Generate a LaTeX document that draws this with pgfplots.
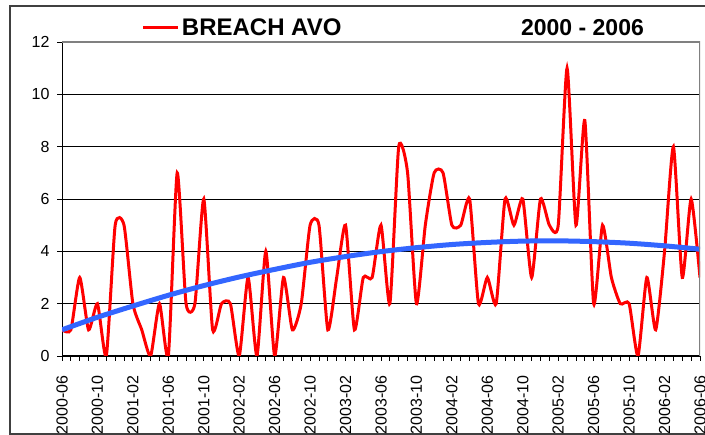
\documentclass[border=0pt]{standalone}
\usepackage{fontspec}
\setmainfont{Liberation Sans}
\usepackage{pgfplots}
\pgfplotsset{compat=1.18}
\definecolor{trendblue}{RGB}{51,102,255}
\definecolor{framegray}{RGB}{64,64,64}
\definecolor{bordergray}{RGB}{128,128,128}
\begin{document}
\begin{tikzpicture}[x=1pt,y=1pt]
\useasboundingbox (0,0) rectangle (705,435);
\draw[framegray, line width=1.5pt] (706,1) -- (10,1) -- (10,429) -- (706,429);
\begin{axis}[
  name=main,
  at={(62pt,79pt)}, anchor=south west,
  scale only axis, width=638pt, height=314pt,
  xmin=0, xmax=72, ymin=0, ymax=12,
  axis x line*=bottom, axis y line*=left,
  axis line style={-, black, line width=1pt},
  ytick={0,2,...,12},
  ymajorgrids, major grid style={black, line width=0.8pt},
  xtick={0,4,...,72},
  xticklabels={2000-06,2000-10,2001-02,2001-06,2001-10,2002-02,2002-06,2002-10,2003-02,2003-06,2003-10,2004-02,2004-06,2004-10,2005-02,2005-06,2005-10,2006-02,2006-06},
  minor xtick={0,1,...,72},
  tick align=outside,
  major tick length=5pt, minor tick length=5pt,
  tick style={black, line width=0.8pt},
  /pgf/number format/assume math mode=true,
  ticklabel style={font=\fontsize{16}{18}\selectfont},
  xticklabel style={rotate=90, anchor=east},
  xticklabel shift=11pt,
  yticklabel shift=4pt,
  clip=true,
  legend style={at={(axis description cs:0.125,1.045)}, anchor=west, draw=none, fill=none,
    font=\bfseries\fontsize{24}{27}\selectfont, inner sep=0pt},
  legend image code/.code={\draw[#1, line width=3pt] (0pt,0pt) -- (35pt,0pt);},
]
\addplot[red, line width=3pt, smooth, tension=0.35] coordinates {
(0,1)(1,1)(2,3)(3,1)(4,2)(5,0)(6,5)(7,5)(8,2)(9,1)
(10,0)(11,2)(12,0)(13,7)(14,2)(15,2)(16,6)(17,1)(18,2)(19,2)
(20,0)(21,3)(22,0)(23,4)(24,0)(25,3)(26,1)(27,2)(28,5)(29,5)
(30,1)(31,3)(32,5)(33,1)(34,3)(35,3)(36,5)(37,2)(38,8)(39,7)
(40,2)(41,5)(42,7)(43,7)(44,5)(45,5)(46,6)(47,2)(48,3)(49,2)
(50,6)(51,5)(52,6)(53,3)(54,6)(55,5)(56,5)(57,11)(58,5)(59,9)
(60,2)(61,5)(62,3)(63,2)(64,2)(65,0)(66,3)(67,1)(68,4)(69,8)
(70,3)(71,6)(72,3)
};
\addlegendentry{BREACH AVO}
\addplot[trendblue, line width=5pt, smooth, forget plot] coordinates {
(0,1.00)(4,1.48)(8,1.91)(12,2.32)(16,2.69)(20,3.02)(24,3.31)(28,3.58)
(32,3.80)(36,3.99)(40,4.14)(44,4.26)(48,4.34)(52,4.39)(56,4.40)(60,4.37)
(64,4.31)(68,4.21)(72,4.08)
};
\draw[bordergray, line width=1.2pt] (rel axis cs:0,1) -- (rel axis cs:1,1) -- (rel axis cs:1,0);
\end{axis}
\node[font=\bfseries\fontsize{23}{26}\selectfont] at (582.5,407) {2000 - 2006};
\end{tikzpicture}
\end{document}
